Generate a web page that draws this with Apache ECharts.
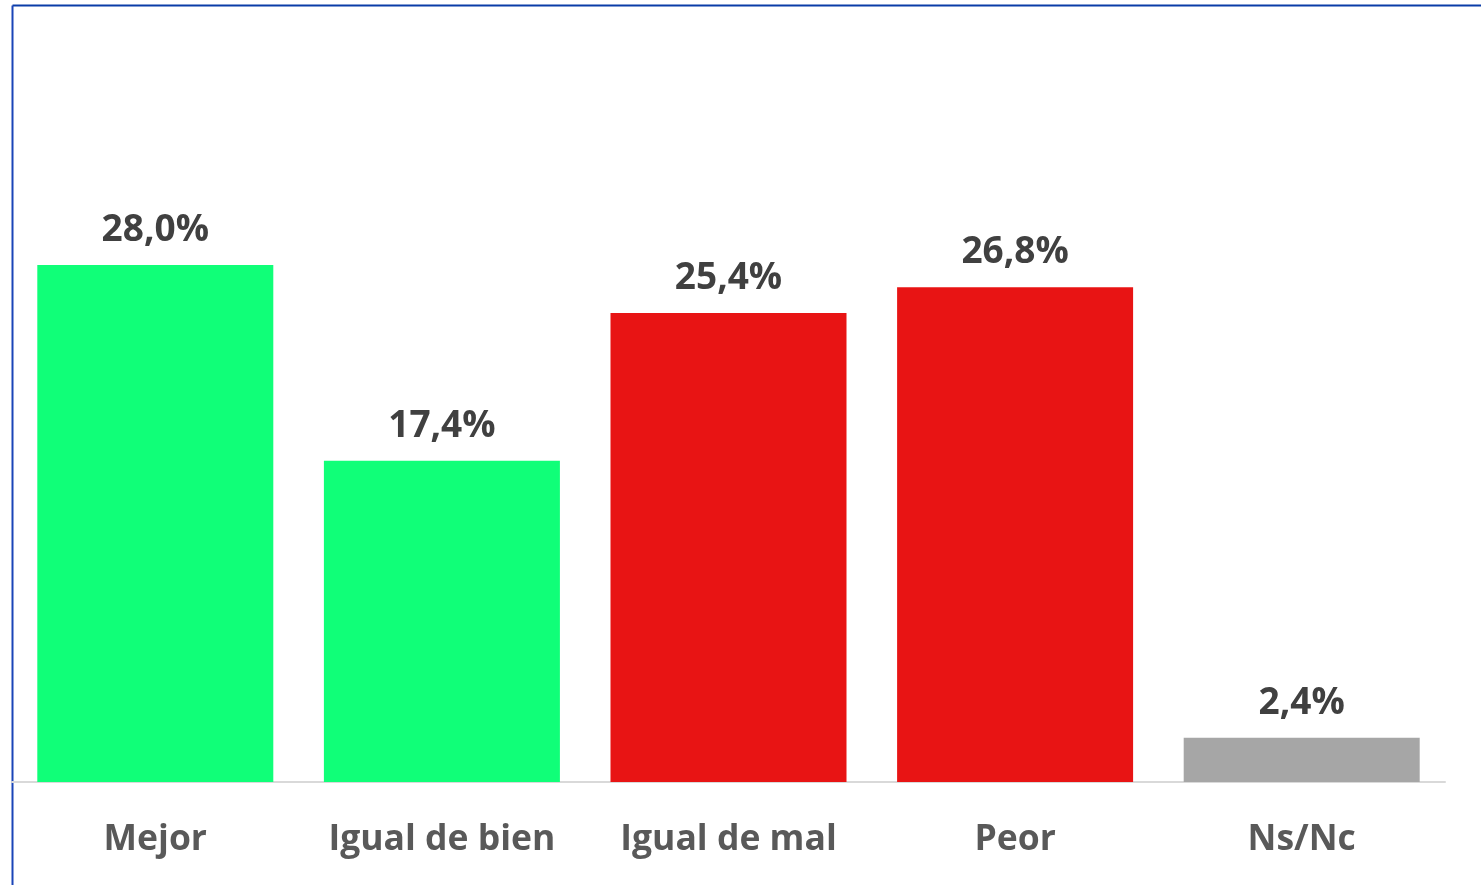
<!DOCTYPE html>
<html>
<head>
<meta charset="utf-8">
<script src="https://cdn.jsdelivr.net/npm/echarts@6/dist/echarts.min.js"></script>
<style>
html,body{margin:0;padding:0;background:#fff;}
#chart{width:1481px;height:885px;}
</style>
</head>
<body>
<div id="chart"></div>
<script>
const categories = ['Mejor', 'Igual de bien', 'Igual de mal', 'Peor', 'Ns/Nc'];
const values = [28.0, 17.4, 25.4, 26.8, 2.4];
const barColors = ['#10ff78', '#10ff78', '#e81414', '#e81414', '#a6a6a6'];

const chart = echarts.init(document.getElementById('chart'));
const fontFamily = '"Open Sans", "Noto Sans", sans-serif';
chart.setOption({
  animation: false,
  grid: { left: 12, right: 36, top: 43.5, bottom: 103, containLabel: false },
  xAxis: {
    type: 'category',
    data: categories,
    axisLine: { show: true, lineStyle: { color: '#d9d9d9', width: 2 } },
    axisTick: { show: false },
    axisLabel: { interval: 0, hideOverlap: false, color: '#595959', fontSize: 35.5, fontWeight: 'bold', fontFamily: fontFamily, margin: 40 }
  },
  yAxis: {
    type: 'value',
    min: 0, max: 40,
    show: false,
    splitLine: { show: false }
  },
  series: [{
    type: 'bar',
    barWidth: 236,
    data: values.map((v, i) => ({ value: v, itemStyle: { color: barColors[i] } })),
    label: {
      show: true,
      position: 'top',
      distance: 16,
      color: '#404040',
      fontSize: 37,
      fontWeight: 'bold',
      fontFamily: fontFamily,
      formatter: p => p.value.toFixed(1).replace('.', ',') + '%'
    }
  }],
  graphic: [
    { type: 'line', shape: { x1: 12.5, y1: 5.5, x2: 1481, y2: 5.5 }, style: { stroke: '#0a3ca8', lineWidth: 2 } },
    { type: 'line', shape: { x1: 12.5, y1: 5.5, x2: 12.5, y2: 885 }, style: { stroke: '#1a45b8', lineWidth: 2 } }
  ]
});
</script>
</body>
</html>
